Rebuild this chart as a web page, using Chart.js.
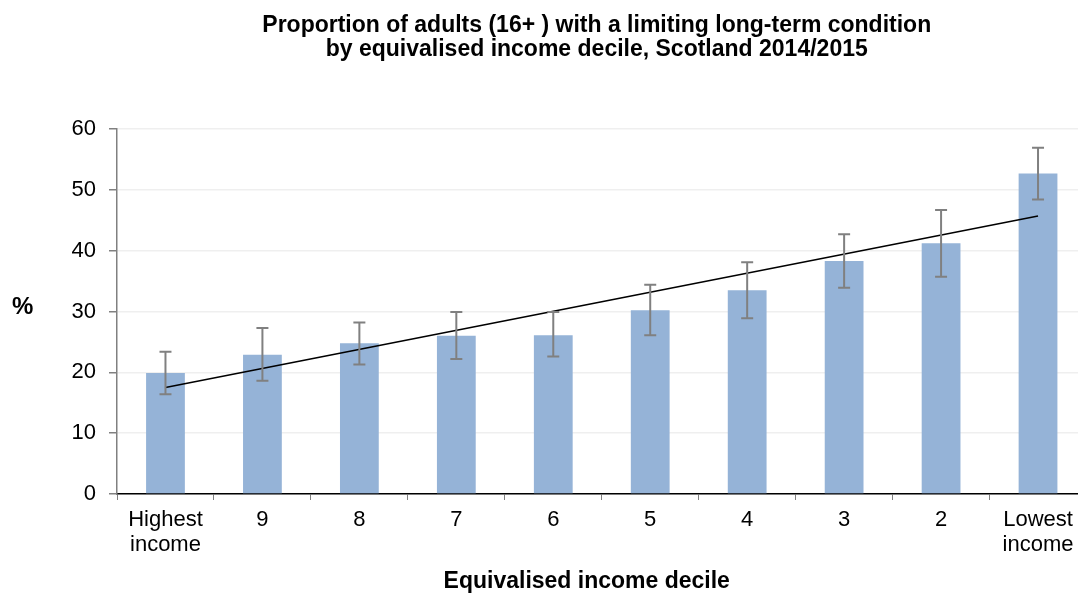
<!DOCTYPE html>
<html>
<head>
<meta charset="utf-8">
<script src="https://cdn.jsdelivr.net/npm/chart.js@4"></script>
<style>
  html, body { margin: 0; padding: 0; background: #fff; overflow: hidden; }
  #wrap { position: relative; width: 1090px; height: 594px; }
</style>
</head>
<body>
<div id="wrap"><canvas id="ltcChart"></canvas></div>
<script>
const deciles = [["Highest", "income"], "9", "8", "7", "6", "5", "4", "3", "2", ["Lowest", "income"]];
const percent = [19.9, 22.9, 24.8, 26.0, 26.1, 30.2, 33.5, 38.3, 41.2, 52.7];
const ciLow = [16.4, 18.6, 21.3, 22.2, 22.6, 26.1, 28.9, 33.9, 35.7, 48.4];
const ciHigh = [23.4, 27.3, 28.2, 29.9, 29.9, 34.4, 38.1, 42.7, 46.7, 56.9];
// linear trend line, read at first and last decile
const trend = [17.5, null, null, null, null, null, null, null, null, 45.7];
const yTicks = [0, 10, 20, 30, 40, 50, 60];

const titleLines = [
  "Proportion of adults (16+ ) with a limiting long-term condition",
  "by equivalised income decile, Scotland 2014/2015",
];
const xTitle = "Equivalised income decile";
const FONT = "'Liberation Sans', Arial, sans-serif";

// error bars + titles + "%" label
const extras = {
  id: "extras",
  afterDatasetsDraw(chart) {
    const { ctx, scales: { x, y } } = chart;
    ctx.save();
    ctx.strokeStyle = "#808080";
    ctx.lineWidth = 2;
    percent.forEach((v, i) => {
      const px = x.getPixelForValue(i);
      const top = y.getPixelForValue(ciHigh[i]);
      const bot = y.getPixelForValue(ciLow[i]);
      ctx.beginPath();
      ctx.moveTo(px, top); ctx.lineTo(px, bot);
      ctx.moveTo(px - 6, top); ctx.lineTo(px + 6, top);
      ctx.moveTo(px - 6, bot); ctx.lineTo(px + 6, bot);
      ctx.stroke();
    });
    ctx.restore();
  },
  afterDraw(chart) {
    const { ctx, chartArea } = chart;
    ctx.save();
    ctx.fillStyle = "#000";
    ctx.font = "bold 23px " + FONT;
    ctx.textAlign = "center";
    ctx.textBaseline = "alphabetic";
    const cx = (chartArea.left + chartArea.right) / 2 - 5;
    ctx.fillText(titleLines[0], cx, 32);
    ctx.fillText(titleLines[1], cx, 56);
    ctx.textBaseline = "middle";
    ctx.fillText(xTitle, cx - 10, 582);
    ctx.font = "bold 24px " + FONT;
    ctx.textAlign = "left";
    ctx.fillText("%", 12, 307);
    ctx.restore();
  },
};

new Chart(document.getElementById("ltcChart"), {
  type: "bar",
  data: {
    labels: deciles,
    datasets: [
      {
        type: "line",
        data: trend,
        borderColor: "#000",
        borderWidth: 1.5,
        pointRadius: 0,
        spanGaps: true,
        order: 1,
      },
      {
        data: percent,
        backgroundColor: "#95B3D7",
        barPercentage: 0.4,
        categoryPercentage: 1,
        order: 2,
      },
    ],
  },
  options: {
    responsive: true,
    maintainAspectRatio: false,
    animation: false,
    layout: { padding: { top: 129, right: 3.5, left: 0, bottom: 0 } },
    plugins: { legend: { display: false }, tooltip: { enabled: false } },
    scales: {
      x: {
        grid: { drawOnChartArea: false, tickLength: 6, color: "#808080", offset: true },
        border: { color: "#000", width: 1.5 },
        ticks: { color: "#000", font: { family: FONT, size: 22, lineHeight: 1.15 }, padding: 7, maxRotation: 0 },
        afterFit(scale) { scale.height = 100; },
      },
      y: {
        min: 0,
        max: 60,
        afterBuildTicks(scale) { scale.ticks = yTicks.map((v) => ({ value: v })); },
        grid: { color: "#efefef", tickColor: "#808080", tickLength: 8, lineWidth: 1.5 },
        border: { color: "#808080", width: 1.5 },
        ticks: { color: "#000", font: { family: FONT, size: 22 }, padding: 13 },
        afterFit(scale) { scale.width = 117; },
      },
    },
  },
  plugins: [extras],
});
</script>
</body>
</html>
